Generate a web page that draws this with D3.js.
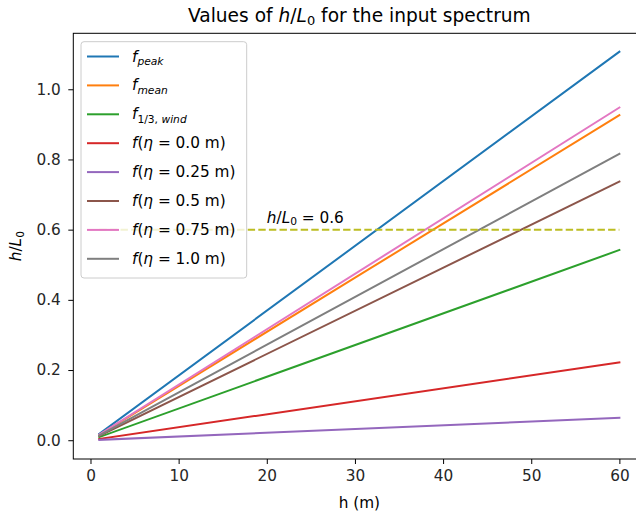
<!DOCTYPE html>
<html>
<head>
<meta charset="utf-8">
<script src="https://cdn.jsdelivr.net/npm/d3@7"></script>
<style>
  html, body { margin: 0; padding: 0; background: #fff; }
  svg { display: block; font-family: "DejaVu Sans", sans-serif; }
</style>
</head>
<body>
<svg id="chart" width="636" height="512"></svg>
<script>
// ---- data ----
const hValues = [1, 60];
const seriesKeys = ["peak", "mean", "wind", "eta0", "eta025", "eta05", "eta075", "eta1"];
const startValues = [0.0185, 0.0154, 0.0090, 0.0037, 0.0011, 0.0123, 0.0158, 0.0136];
const endValues = [1.107, 0.926, 0.542, 0.222, 0.064, 0.737, 0.948, 0.816];
const seriesColors = ["#1f77b4", "#ff7f0e", "#2ca02c", "#d62728", "#9467bd", "#8c564b", "#e377c2", "#7f7f7f"];
const etaLabels = ["0.0", "0.25", "0.5", "0.75", "1.0"];
const thresholdValue = 0.6;
const xTicks = [0, 10, 20, 30, 40, 50, 60];
const yTicks = [0.0, 0.2, 0.4, 0.6, 0.8, 1.0];

// ---- layout ----
const svg = d3.select("#chart");
const mLeft = 73.3, mTop = 33.3, mBottom = 459;
const pxPerX = 8.815;
const xDomain = [-1.95, 62.95];
const fs = 15.3, fsSub = 10.7, fsTitle = 18.6;
const x = d3.scaleLinear().domain(xDomain).range([mLeft, mLeft + (xDomain[1] - xDomain[0]) * pxPerX]);
const y = d3.scaleLinear().domain([-0.0535, 1.1595]).range([mBottom, mTop]);

svg.append("defs").append("clipPath").attr("id", "clip")
  .append("rect").attr("x", mLeft).attr("y", mTop).attr("width", x.range()[1] - mLeft).attr("height", mBottom - mTop);

const series = seriesKeys.map((k, i) => ({
  key: k, color: seriesColors[i],
  pts: [[hValues[0], startValues[i]], [hValues[1], endValues[i]]]
}));

const line = d3.line().x(d => x(d[0])).y(d => y(d[1]));
const lines = svg.append("g").attr("clip-path", "url(#clip)");
series.forEach(s => {
  lines.append("path").attr("d", line(s.pts)).attr("fill", "none")
    .attr("stroke", s.color).attr("stroke-width", 2).attr("stroke-linecap", "square");
});
// threshold dashed line
lines.append("path").attr("d", line([[hValues[0], thresholdValue], [hValues[1], thresholdValue]]))
  .attr("fill", "none").attr("stroke", "#bcbd22").attr("stroke-width", 2)
  .attr("stroke-dasharray", "7.4,3.2");

// annotation
const ann = svg.append("text").attr("x", x(20)).attr("y", y(0.62)).attr("font-size", fs).attr("fill", "#000");
ann.append("tspan").attr("font-style", "italic").text("h");
ann.append("tspan").text("/");
ann.append("tspan").attr("font-style", "italic").text("L");
ann.append("tspan").attr("font-size", fsSub).attr("dy", 2.8).text("0");
ann.append("tspan").attr("dy", -2.8).text(" = 0.6");

// axes
const xAxis = d3.axisBottom(x).tickValues(xTicks).tickSize(5).tickPadding(6.5).tickFormat(d3.format("d"));
const gx = svg.append("g").attr("transform", `translate(0,${mBottom})`).call(xAxis);
const yAxis = d3.axisLeft(y).tickValues(yTicks).tickSize(5).tickPadding(7.5).tickFormat(d3.format(".1f"));
const gy = svg.append("g").attr("transform", `translate(${mLeft},0)`).call(yAxis);
[gx, gy].forEach(g => {
  g.select(".domain").remove();
  g.selectAll(".tick line").attr("stroke", "#000").attr("stroke-width", 1);
  g.selectAll(".tick text").attr("font-size", fs).attr("fill", "#262626")
    .attr("font-family", "DejaVu Sans, sans-serif");
});
// spines
svg.append("rect").attr("x", mLeft).attr("y", mTop).attr("width", x.range()[1] - mLeft).attr("height", mBottom - mTop)
  .attr("fill", "none").attr("stroke", "#000").attr("stroke-width", 1);

// title
const title = svg.append("text").attr("x", (mLeft + x.range()[1]) / 2).attr("y", 21.5)
  .attr("text-anchor", "middle").attr("font-size", fsTitle).attr("fill", "#000");
title.append("tspan").text("Values of ");
title.append("tspan").attr("font-style", "italic").text("h");
title.append("tspan").text("/");
title.append("tspan").attr("font-style", "italic").text("L");
title.append("tspan").attr("font-size", 13).attr("dy", 3.3).text("0");
title.append("tspan").attr("dy", -3.3).text(" for the input spectrum");

// x label
svg.append("text").attr("x", (mLeft + x.range()[1]) / 2).attr("y", 507.5)
  .attr("text-anchor", "middle").attr("font-size", fs).attr("fill", "#000").text("h (m)");
// y label
const yl = svg.append("text").attr("transform", `translate(21,${(mTop + mBottom) / 2}) rotate(-90)`)
  .attr("text-anchor", "middle").attr("font-size", fs).attr("fill", "#000");
yl.append("tspan").attr("font-style", "italic").text("h");
yl.append("tspan").text("/");
yl.append("tspan").attr("font-style", "italic").text("L");
yl.append("tspan").attr("font-size", fsSub).attr("dy", 2.8).text("0");

// legend
const leg = svg.append("g");
leg.append("rect").attr("x", 81).attr("y", 41.7).attr("width", 165.7).attr("height", 236.3)
  .attr("rx", 3).attr("fill", "#fff").attr("fill-opacity", 0.8).attr("stroke", "#cccccc").attr("stroke-width", 1);
const rowY0 = 56.5, rowStep = 28.9;
series.forEach((s, i) => {
  const ry = rowY0 + i * rowStep;
  leg.append("line").attr("x1", 87).attr("x2", 119).attr("y1", ry).attr("y2", ry)
    .attr("stroke", s.color).attr("stroke-width", 2);
  const t = leg.append("text").attr("x", 132).attr("y", ry + 5).attr("font-size", fs).attr("fill", "#000");
  if (i === 0 || i === 1) {
    t.append("tspan").attr("font-style", "italic").text("f");
    t.append("tspan").attr("font-style", "italic").attr("font-size", fsSub).attr("dy", 3.2).text(i === 0 ? "peak" : "mean");
  } else if (i === 2) {
    t.append("tspan").attr("font-style", "italic").text("f");
    const sub = t.append("tspan").attr("font-size", fsSub).attr("dy", 3.2);
    sub.append("tspan").text("1/3,");
    sub.append("tspan").attr("font-style", "italic").text(" wind");
  } else {
    t.append("tspan").attr("font-style", "italic").text("f");
    t.append("tspan").text("(");
    t.append("tspan").attr("font-style", "italic").text("η");
    t.append("tspan").text(" = " + etaLabels[i - 3] + " m)");
  }
});
</script>
</body>
</html>
